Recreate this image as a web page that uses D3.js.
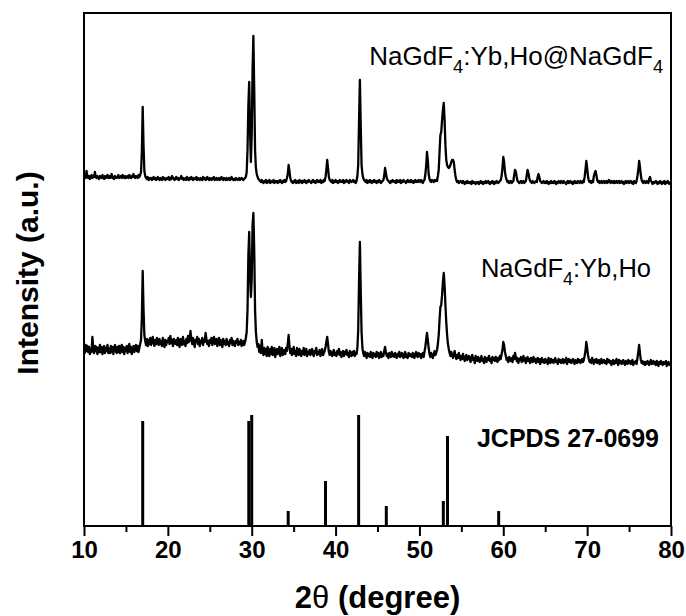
<!DOCTYPE html>
<html>
<head>
<meta charset="utf-8">
<script src="https://cdn.jsdelivr.net/npm/d3@7"></script>
<style>
  body { margin: 0; background: #fff; }
  svg text { font-family: "Liberation Sans", Arial, Helvetica, sans-serif; fill: #000; }
</style>
</head>
<body>
<svg id="chart" width="686" height="616"></svg>
<script>
// XRD scan grid (degrees 2θ)
const scanStart = 10;
const scanStep = 0.1;

// NaGdF4:Yb,Ho@NaGdF4 — intensity above its own baseline, one row per degree (a.u.)
const shellTrace = [
  3,5,2,9,4,2,4,1,3,5,
  2,4,3,8,3,2,4,3,1,4,
  3,2,5,3,1,4,2,3,5,2,
  4,2,3,6,2,3,1,4,3,2,
  3,5,2,3,4,2,5,3,2,4,
  2,3,4,2,5,3,2,4,3,6,
  3,2,4,3,2,5,3,5,8,28,
  73,34,9,4,2,1,3,0,2,1,
  2,0,1,3,1,2,0,1,3,1,
  0,2,1,0,3,1,2,0,1,2,
  1,3,0,2,1,4,2,1,0,2,
  3,1,2,0,1,2,4,1,2,0,
  1,2,0,3,1,0,2,1,3,1,
  0,2,1,1,3,0,2,1,0,2,
  1,0,3,1,2,0,1,3,1,0,
  2,1,0,2,1,3,0,1,2,0,
  1,2,0,1,3,1,0,2,1,0,
  2,0,1,2,0,1,3,1,0,1,
  0,2,1,0,1,2,0,1,2,1,
  0,1,2,3,8,30,75,98,50,18,
  45,110,144,90,30,12,6,3,1,0,
  -1,-2,0,-2,-3,-1,-2,0,-3,-1,
  -2,0,-3,-1,-2,-2,0,-3,-1,-2,
  -1,-3,-1,-2,0,-2,-3,-1,-2,0,
  -2,-1,2,6,15,9,2,-1,-2,-3,
  -1,-2,0,-3,-2,-1,-3,0,-2,-1,
  -3,-1,-2,0,-2,-3,-1,-2,0,-1,
  -2,-3,-1,0,-2,-1,-3,-2,0,-2,
  -1,-2,0,-3,-1,-2,0,-1,3,10,
  20,12,3,0,-1,-2,0,-3,-1,-2,
  0,-2,-1,-3,-1,0,-2,-1,-2,0,
  -3,-1,-2,0,-1,-2,-3,0,-1,-2,
  -1,0,-2,-1,-3,-1,4,15,60,100,
  55,15,6,2,0,-1,-2,0,-3,-1,
  -2,0,-1,-3,-1,-2,0,-2,-1,-3,
  -1,-2,0,-1,-3,-2,-1,0,4,12,
  7,2,0,-1,-2,-3,-1,-2,0,-1,
  -2,-1,-3,0,-2,-1,-2,0,-3,-1,
  -2,0,-1,-2,-3,-1,0,-2,-1,-2,
  0,-2,-1,-3,-1,0,-2,-1,-2,0,
  -1,-2,0,-1,-3,-1,0,5,14,28,
  20,6,1,-1,-2,0,-1,-2,0,-1,
  0,-1,4,10,28,45,48,60,70,77,
  60,35,20,15,13,12,13,15,18,20,
  20,18,10,4,0,-2,-1,-3,-2,-1,
  -2,-3,-1,-2,-4,-2,-3,-1,-3,-2,
  -3,-2,-4,-1,-3,-2,-3,-4,-2,-3,
  -2,-4,-3,-1,-3,-2,-4,-2,-3,-1,
  -3,-2,-1,-3,-4,-2,-3,-1,-2,-4,
  -2,-3,-1,-2,-3,-2,-1,0,4,12,
  23,18,8,3,0,-2,-1,-3,-2,-1,
  -3,-2,-1,5,10,8,3,-1,-2,-3,
  -2,-1,-3,-2,-1,-3,-2,-1,5,10,
  7,2,-1,-2,-3,-1,-2,-3,-2,-1,
  -2,3,6,3,-1,-2,-3,-2,-1,-3,
  -2,-3,-1,-2,-4,-2,-3,-1,-3,-2,
  -3,-1,-2,-4,-2,-3,-1,-2,-3,-1,
  -2,-3,-1,-2,-3,-4,-2,-1,-3,-2,
  -1,-3,-2,-4,-2,-1,-3,-2,-3,-1,
  -2,-3,-1,-2,-3,-1,-2,3,10,19,
  12,4,-1,-2,-1,-3,-1,-2,4,7,
  9,5,0,-2,-1,-3,-2,-1,-3,-2,
  -1,-3,-2,-1,-3,-2,0,-2,-3,-1,
  -2,-3,-1,-3,-2,-1,-3,-2,-1,-3,
  -2,-1,-3,-2,-4,-2,-1,-3,-2,-1,
  -3,-2,-1,-3,-2,-4,-1,-2,-3,-1,
  4,10,19,13,5,0,-2,-3,-1,-2,
  -3,-1,-2,-3,1,3,-1,-2,-4,-2,
  -3,-2,-1,-3,-4,-2,-3,-1,-2,-4,
  -2,-3,-1,-4,-2,-3,-1,-2,-4,-3,
  -2
];

// NaGdF4:Yb,Ho — intensity above its own baseline (a.u.)
const coreTrace = [
  2,-3,5,-1,4,-2,3,-4,1,-2,
  13,2,-3,4,-1,3,-4,2,-2,5,
  -2,3,-4,1,4,-3,2,-1,5,-3,
  1,-3,4,-2,3,-4,2,5,-1,-3,
  3,-2,4,-3,1,5,-2,3,-4,2,
  -1,4,-3,2,6,-2,3,-4,1,4,
  -2,3,5,-1,4,-2,2,6,10,32,
  79,40,15,9,5,11,4,10,6,12,
  5,9,13,7,4,10,6,12,8,5,
  11,6,9,4,12,7,3,10,5,9,
  8,12,6,14,7,10,4,11,8,6,
  10,5,12,7,3,11,8,5,13,6,
  9,4,11,7,14,8,12,19,10,6,
  12,7,3,10,8,13,6,11,4,9,
  7,12,5,10,8,17,11,6,9,4,
  10,7,12,5,9,13,6,8,11,4,
  8,12,5,10,7,3,11,6,9,5,
  11,6,8,4,10,7,12,5,9,6,
  4,9,7,11,5,8,6,10,4,7,
  9,5,8,12,18,40,95,118,75,53,
  70,125,137,100,40,18,8,3,6,-2,
  4,-3,10,-1,-5,2,-4,1,-6,3,
  -2,-6,1,-4,3,-5,-1,2,-7,-3,
  1,-4,-2,3,-6,-1,2,-5,-3,0,
  -4,2,-1,6,15,4,-3,1,-5,-2,
  3,-4,-1,-6,2,-3,-5,1,-2,-6,
  -1,-4,2,-5,-3,1,-6,-2,-4,0,
  -5,-2,1,-4,-6,-1,-3,2,-5,-2,
  -4,0,-6,-2,1,-5,-3,-1,3,8,
  13,6,-2,-5,-1,-4,-6,-2,0,-5,
  -3,-6,-1,-4,1,-5,-2,-7,-3,-1,
  -6,-2,-4,0,-5,-3,-7,-1,-4,-6,
  -2,-5,-1,-6,-3,-4,2,20,70,108,
  60,18,2,-3,-6,-2,-5,-8,-3,-6,
  -4,-7,-2,-5,-8,-3,-6,-4,-7,-2,
  -6,-3,-8,-5,-2,-7,-4,-6,-1,3,
  -2,-6,-4,-8,-3,-5,-7,-2,-6,-4,
  -7,-3,-5,-8,-4,-6,-2,-7,-5,-3,
  -6,-8,-4,-2,-7,-5,-8,-3,-6,-4,
  -5,-7,-3,-6,-8,-4,-2,-6,-7,-3,
  -6,-4,-8,-5,-3,-7,-2,3,10,17,
  10,2,-4,-7,-3,-6,-8,-4,-1,-5,
  -3,0,6,15,30,43,45,55,68,77,
  65,45,28,15,6,1,-3,-6,-2,-5,
  -8,-4,-1,-6,-9,-5,-8,-3,-7,-10,
  -6,-9,-4,-8,-11,-7,-5,-10,-8,-6,
  -9,-12,-7,-5,-10,-8,-13,-6,-9,-11,
  -7,-10,-12,-8,-6,-11,-9,-13,-7,-10,
  -12,-8,-10,-6,-11,-9,-13,-7,-10,-8,
  -11,-7,-9,-12,-8,-10,-6,-9,-4,0,
  8,5,-2,-6,-10,-8,-12,-7,-9,-11,
  -8,-12,-6,-9,-3,-7,-11,-8,-13,-9,
  -10,-7,-12,-9,-6,-11,-8,-13,-10,-7,
  -11,-9,-13,-8,-10,-12,-7,-11,-9,-13,
  -10,-8,-12,-9,-14,-11,-8,-12,-10,-13,
  -9,-12,-10,-14,-8,-11,-13,-9,-12,-10,
  -13,-10,-8,-12,-11,-14,-9,-12,-10,-13,
  -11,-9,-13,-10,-12,-8,-14,-11,-9,-12,
  -10,-13,-11,-9,-12,-14,-10,-12,-13,-9,
  -12,-10,-13,-11,-9,-12,-10,-6,-1,8,
  2,-5,-9,-12,-10,-13,-8,-11,-14,-10,
  -12,-9,-13,-11,-10,-14,-12,-9,-13,-11,
  -10,-13,-11,-14,-9,-12,-10,-13,-11,-15,
  -12,-10,-14,-11,-13,-9,-12,-15,-10,-13,
  -11,-14,-12,-10,-13,-15,-11,-12,-14,-10,
  -13,-11,-14,-12,-10,-15,-12,-13,-11,-14,
  -8,-2,5,-3,-10,-13,-11,-14,-12,-15,
  -12,-14,-11,-13,-15,-12,-10,-14,-13,-11,
  -14,-12,-15,-11,-13,-16,-12,-14,-11,-13,
  -15,-12,-14,-13,-11,-16,-13,-12,-15,-14,
  -13
];

// Vertical offsets of the stacked patterns (a.u.)
const traceOffsets = [346, 176];

// Standard card JCPDS 27-0699 (hexagonal NaGdF4)
const refPositions = [17.0, 29.65, 30.0, 34.35, 38.8, 42.75, 46.05, 52.85, 53.35, 59.45];
const refHeights   = [105, 105, 111, 15, 45, 111, 20, 25, 90, 15];

const xMajorTicks = [10, 20, 30, 40, 50, 60, 70, 80];
const xMinorTicks = [15, 25, 35, 45, 55, 65, 75];

const W = 686, H = 616;
const margin = { left: 84, right: 15, top: 13, bottom: 90 };
const plotW = W - margin.left - margin.right;
const plotH = H - margin.top - margin.bottom;

const svg = d3.select("#chart");
const x = d3.scaleLinear().domain([10, 80]).range([margin.left, margin.left + plotW]);
const y = d3.scaleLinear().domain([0, 513]).range([margin.top + plotH, margin.top]);

svg.append("defs").append("clipPath").attr("id", "plot-clip")
  .append("rect")
  .attr("x", margin.left).attr("y", margin.top)
  .attr("width", plotW).attr("height", plotH);

const plot = svg.append("g").attr("clip-path", "url(#plot-clip)");

const line = d3.line()
  .x(d => x(d[0]))
  .y(d => y(d[1]));

[shellTrace, coreTrace].forEach((trace, k) => {
  const pts = trace.map((v, i) => [scanStart + i * scanStep, v + traceOffsets[k]]);
  plot.append("path")
    .attr("d", line(pts))
    .attr("fill", "none")
    .attr("stroke", "#000")
    .attr("stroke-width", 2.3)
    .attr("stroke-linejoin", "round");
});

// Reference sticks
plot.selectAll("line.ref")
  .data(refPositions)
  .join("line")
  .attr("class", "ref")
  .attr("x1", d => x(d)).attr("x2", d => x(d))
  .attr("y1", y(0))
  .attr("y2", (d, i) => y(refHeights[i]))
  .attr("stroke", "#000")
  .attr("stroke-width", 3);

// Frame
svg.append("rect")
  .attr("x", margin.left).attr("y", margin.top)
  .attr("width", plotW).attr("height", plotH)
  .attr("fill", "none").attr("stroke", "#000").attr("stroke-width", 2);

// Bottom axis with major and minor ticks
const axisG = svg.append("g").attr("transform", `translate(0,${margin.top + plotH})`);
axisG.call(d3.axisBottom(x).tickValues(xMajorTicks).tickSize(10).tickPadding(5).tickFormat(d3.format("d")));
axisG.select(".domain").remove();
axisG.selectAll(".tick line").attr("stroke-width", 2);
axisG.selectAll(".tick text")
  .attr("font-size", 24).attr("font-weight", "bold")
  .attr("font-family", "'Liberation Sans', Arial, sans-serif");

const minorG = svg.append("g").attr("transform", `translate(0,${margin.top + plotH})`);
minorG.call(d3.axisBottom(x).tickValues(xMinorTicks).tickSize(6).tickFormat(""));
minorG.select(".domain").remove();
minorG.selectAll(".tick line").attr("stroke-width", 2);

// Axis titles
const xt = svg.append("text")
  .attr("x", margin.left + plotW / 2).attr("y", 608)
  .attr("text-anchor", "middle")
  .attr("font-size", 31).attr("font-weight", "bold");
xt.append("tspan").text("2");
xt.append("tspan").attr("font-weight", "normal").text("θ");
xt.append("tspan").text(" (degree)");

svg.append("text")
  .attr("transform", `translate(38,${margin.top + 260}) rotate(-90)`)
  .attr("text-anchor", "middle")
  .attr("font-size", 30).attr("font-weight", "bold")
  .text("Intensity (a.u.)");

// Pattern labels with subscripted "4"
function formulaLabel(parts, xr, yb, size, weight) {
  const t = svg.append("text")
    .attr("x", xr).attr("y", yb)
    .attr("text-anchor", "end")
    .attr("font-size", size).attr("font-weight", weight);
  let lowered = false;
  parts.forEach(p => {
    const span = t.append("tspan");
    if (p.sub) {
      span.attr("font-size", size * 0.7).attr("dy", size * 0.3).text(p.sub);
      lowered = true;
    } else {
      if (lowered) { span.attr("dy", -size * 0.3); lowered = false; }
      span.text(p.text);
    }
  });
  return t;
}

formulaLabel([{text: "NaGdF"}, {sub: "4"}, {text: ":Yb,Ho@NaGdF"}, {sub: "4"}], 663, 65, 26, "normal");
formulaLabel([{text: "NaGdF"}, {sub: "4"}, {text: ":Yb,Ho"}], 651, 277, 25.5, "normal");
svg.append("text")
  .attr("x", 659).attr("y", 447)
  .attr("text-anchor", "end")
  .attr("font-size", 25).attr("font-weight", "bold")
  .text("JCPDS 27-0699");
</script>
</body>
</html>
